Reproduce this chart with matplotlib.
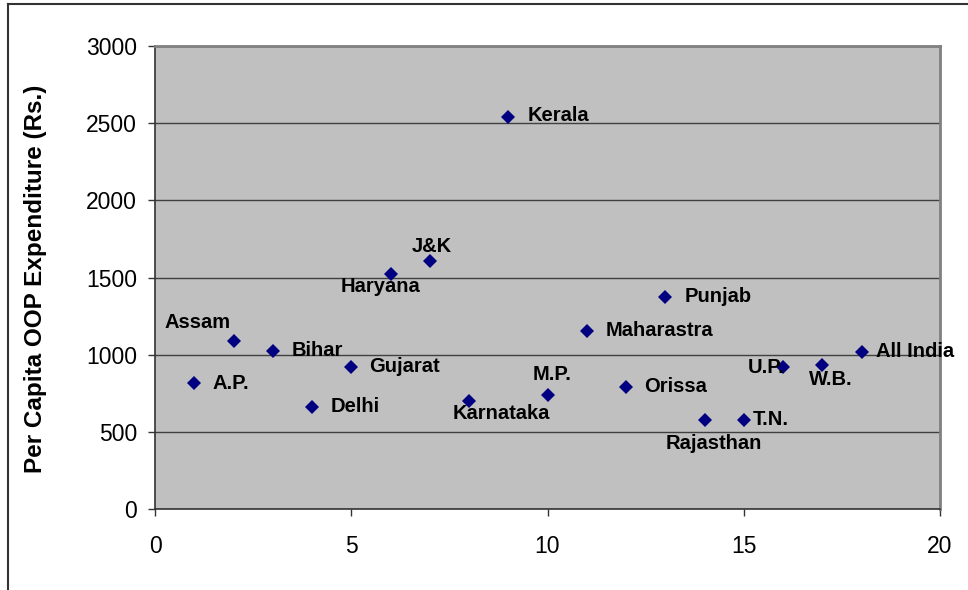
import matplotlib
matplotlib.use("Agg")
import matplotlib.pyplot as plt
from matplotlib.lines import Line2D

plt.rcParams['font.family'] = ['Liberation Sans', 'DejaVu Sans']

# Data
states = ["A.P.", "Assam", "Bihar", "Delhi", "Gujarat", "Haryana", "J&K", "Karnataka",
          "Kerala", "M.P.", "Maharastra", "Orissa", "Punjab", "Rajasthan", "T.N.",
          "U.P.", "W.B.", "All India"]
x_index = list(range(1, 19))
oop_expenditure = [818, 1090, 1025, 662, 922, 1525, 1610, 701,
                   2542, 740, 1155, 792, 1375, 578, 578,
                   922, 935, 1019]
x_ticks = [0, 5, 10, 15, 20]
y_ticks = [0, 500, 1000, 1500, 2000, 2500, 3000]

# Label placement (pixel offsets, horizontal alignment)
label_offsets = {
    "A.P.": (18, -1, 'left'), "Assam": (-36, 18, 'center'), "Bihar": (19, 0, 'left'),
    "Delhi": (19, 0, 'left'), "Gujarat": (18, 0, 'left'), "Haryana": (-10, -13, 'center'),
    "J&K": (2, 14, 'center'), "Karnataka": (32, -13, 'center'), "Kerala": (19, 1, 'left'),
    "M.P.": (5, 20, 'center'), "Maharastra": (19, 0, 'left'), "Orissa": (18, 0, 'left'),
    "Punjab": (19, 0, 'left'), "Rajasthan": (9, -24, 'center'), "T.N.": (9, 0, 'left'),
    "U.P.": (-17, -1, 'center'), "W.B.": (9, -15, 'center'), "All India": (14, 0, 'left'),
}

fig = plt.figure(figsize=(9.68, 5.90), dpi=100)
ax = fig.add_axes([155/968, 1 - 509/590, 785/968, 463/590])
ax.set_facecolor('#C0C0C0')

ax.plot(x_index, oop_expenditure, linestyle='none', marker='D', ms=7.2,
        color='#000080', markeredgewidth=0, zorder=3)

for name, xv, yv in zip(states, x_index, oop_expenditure):
    dx, dy, ha = label_offsets[name]
    ax.annotate(name, (xv, yv), xytext=(dx, dy), textcoords='offset pixels',
                ha=ha, va='center', fontsize=14.5, fontweight='bold', color='black',
                zorder=4)

ax.set_xlim(0, 20)
ax.set_ylim(0, 3000)
ax.set_xticks(x_ticks)
ax.set_yticks(y_ticks)
ax.set_xticklabels([str(t) for t in x_ticks])
ax.set_yticklabels([str(t) for t in y_ticks])
ax.tick_params(axis='both', labelsize=16.5, length=5, width=1, color='#333333', direction='out')
ax.tick_params(axis='y', pad=8)
ax.tick_params(axis='x', pad=14)

ax.yaxis.grid(True, color='#404040', linewidth=1)
ax.set_axisbelow(True)

for side in ['left', 'bottom']:
    ax.spines[side].set_color('#333333')
    ax.spines[side].set_linewidth(1.2)
for side in ['top', 'right']:
    ax.spines[side].set_color('#808080')
    ax.spines[side].set_linewidth(2)

ax.set_ylabel('Per Capita OOP Expenditure (Rs.)', fontsize=17.5, fontweight='bold')
ax.yaxis.set_label_coords(-0.1376, 0.497)

# outer chart border (cropped on right/bottom)
W, H = 968, 590
fig.add_artist(Line2D([8/W, 8/W], [0, 1 - 4/H], color='#333333', linewidth=1.5,
                      transform=fig.transFigure))
fig.add_artist(Line2D([8/W, 1], [1 - 4/H, 1 - 4/H], color='#333333', linewidth=1.5,
                      transform=fig.transFigure))

fig.savefig('out.png', dpi=100)
